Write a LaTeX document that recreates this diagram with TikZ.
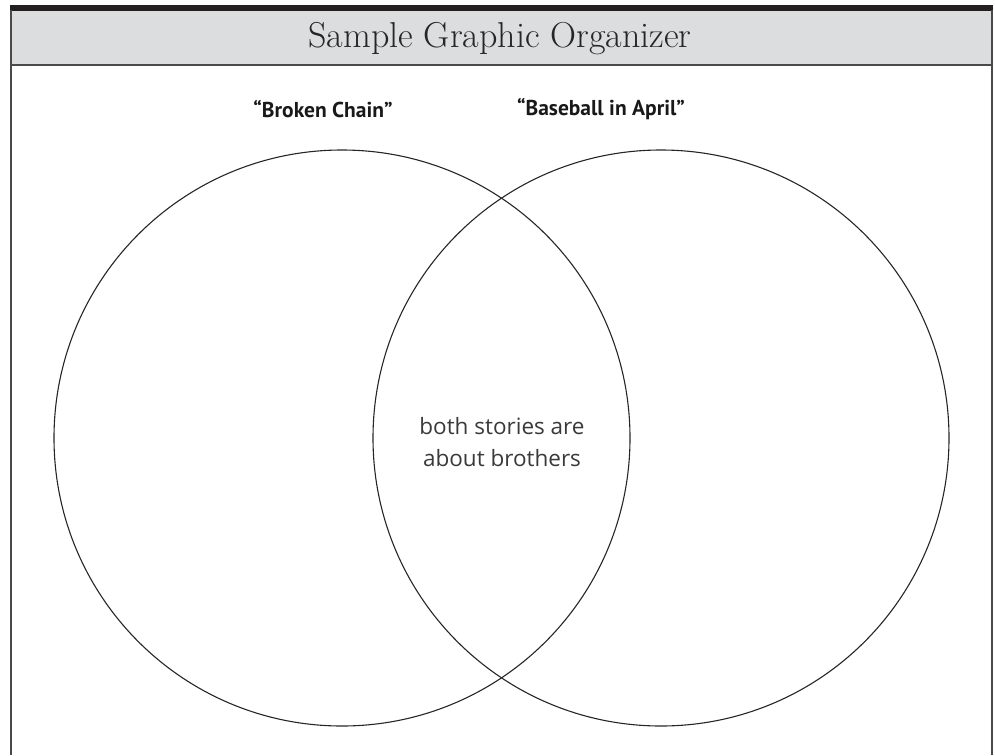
\documentclass[tikz,border=0pt]{standalone}
\usepackage{fontspec}
\newfontfamily\labelfont{PT Sans}
\newfontfamily\handfont{Open Sans}
\definecolor{barblack}{HTML}{231F20}
\definecolor{headgray}{HTML}{DCDDDF}
\definecolor{framegray}{HTML}{4A4A4A}
\definecolor{textgray}{HTML}{3A3A3A}
\tikzset{
  venn/.style={draw=black!85, line width=1.1pt},
  booktitle/.style={font=\labelfont\bfseries\fontsize{21.5}{26}\selectfont, text=black!90, inner sep=0pt},
  headtitle/.style={font=\fontsize{36}{40}\selectfont, text=black!85, inner sep=0pt},
  handtext/.style={font=\handfont\fontsize{22.5}{32}\selectfont, text=textgray, align=center, inner sep=0pt}
}
\begin{document}
\begin{tikzpicture}[x=1pt,y=-1pt]
\useasboundingbox (0,0) rectangle (995,755);
% header
\fill[headgray] (11,10) rectangle (992,65);
\fill[barblack] (10,5) rectangle (993,10.5);
\draw[framegray, line width=2pt] (10,65) -- (993,65);
\draw[framegray, line width=2pt] (11,10) -- (11,755);
\draw[framegray, line width=2pt] (992,10) -- (992,755);
\node[headtitle, anchor=base] (title) at (500,47) {Sample Graphic Organizer};
% circles
\node[venn, circle, minimum size=576pt, inner sep=0pt] (left) at (342,438) {};
\node[venn, circle, minimum size=576pt, inner sep=0pt] (right) at (661,438) {};
\node[booktitle] (lab1) at (323,109) {“Broken Chain”};
\node[booktitle] (lab2) at (601,109) {“Baseball in April”};
\node[handtext] (both) at (502,442) {both stories are\\about brothers};
\end{tikzpicture}
\end{document}
